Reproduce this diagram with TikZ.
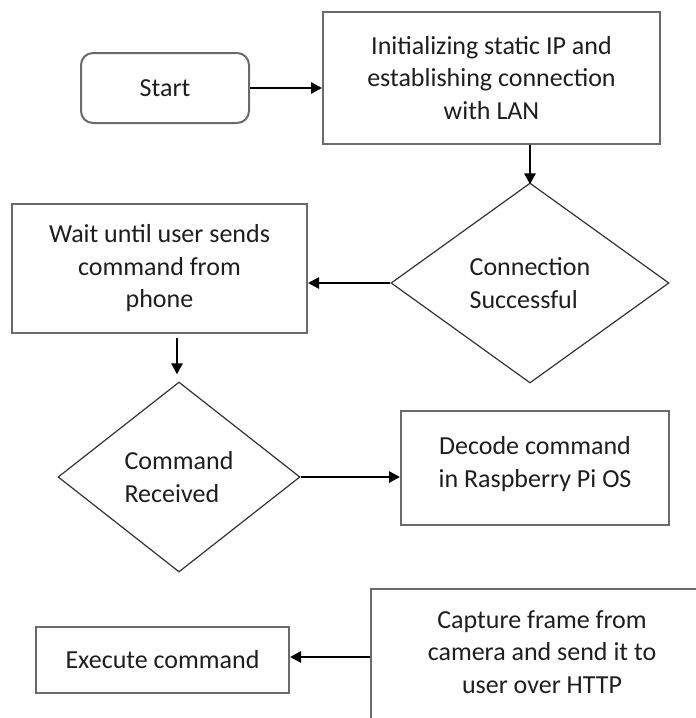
\documentclass[tikz,border=0pt]{standalone}
\usepackage{fontspec}
\setmainfont{Carlito}
\usetikzlibrary{shapes.geometric,arrows.meta}
\definecolor{boxline}{HTML}{6A6A6A}
\definecolor{dialine}{HTML}{333333}
\definecolor{txt}{HTML}{1E1E1E}
\begin{document}
\begin{tikzpicture}[x=1pt,y=-1pt,
  every node/.style={font=\fontsize{26}{32.5}\selectfont, text=txt, inner sep=0pt},
  procbox/.style={draw=boxline, line width=2pt, rectangle, align=center},
  startbox/.style={procbox, rounded corners=12pt},
  decision/.style={draw=dialine, line width=1.2pt, diamond, align=left},
  arr/.style={line width=2.6pt, -{Triangle[length=11pt,width=11pt]}}
]
\useasboundingbox (0,0) rectangle (696,718);
\fill[white] (0,0) rectangle (696,718);
\begin{scope}
\clip (0,0) rectangle (696,718);

\node[startbox, minimum width=168pt, minimum height=70pt] (start) at (165,88) {Start};
\node[procbox, minimum width=337pt, minimum height=132pt] (init) at (491.5,78)
  {Initializing static IP and\\establishing connection\\with LAN};
\node[decision, minimum width=278pt, minimum height=200pt] (d1) at (530,283)
  {Connection\\Successful};
\node[procbox, minimum width=295pt, minimum height=129pt] (wait) at (159.5,268.5)
  {Wait until user sends\\command from\\phone};
\node[decision, minimum width=242pt, minimum height=190pt] (d2) at (179,477)
  {Command\\Received};
\node[procbox, minimum width=268pt, minimum height=114pt] (decode) at (535,468)
  {Decode command\\in Raspberry Pi OS\rule[-12pt]{0pt}{0pt}};
\node[procbox, minimum width=342pt, minimum height=136pt] (capture) at (542,657)
  {Capture frame from\\camera and send it to\\user over HTTP\rule[-10pt]{0pt}{0pt}};
\node[procbox, minimum width=253pt, minimum height=66pt] (exec) at (162.5,660)
  {Execute command};

\draw[arr] (start.east) -- (init.west |- start.east);
\draw[arr] (d1.north |- init.south) -- ([yshift=-2pt]d1.north);
\draw[arr] (d1.west) -- (d1.west -| wait.east);
\draw[arr, shorten <=4pt, shorten >=7pt] ([xshift=-2pt]d2.north |- wait.south) -- ([xshift=-2pt]d2.north);
\draw[arr] (d2.east) -- (d2.east -| decode.west);
\draw[arr] (capture.west) -- (capture.west -| exec.east);
\end{scope}
\end{tikzpicture}
\end{document}
